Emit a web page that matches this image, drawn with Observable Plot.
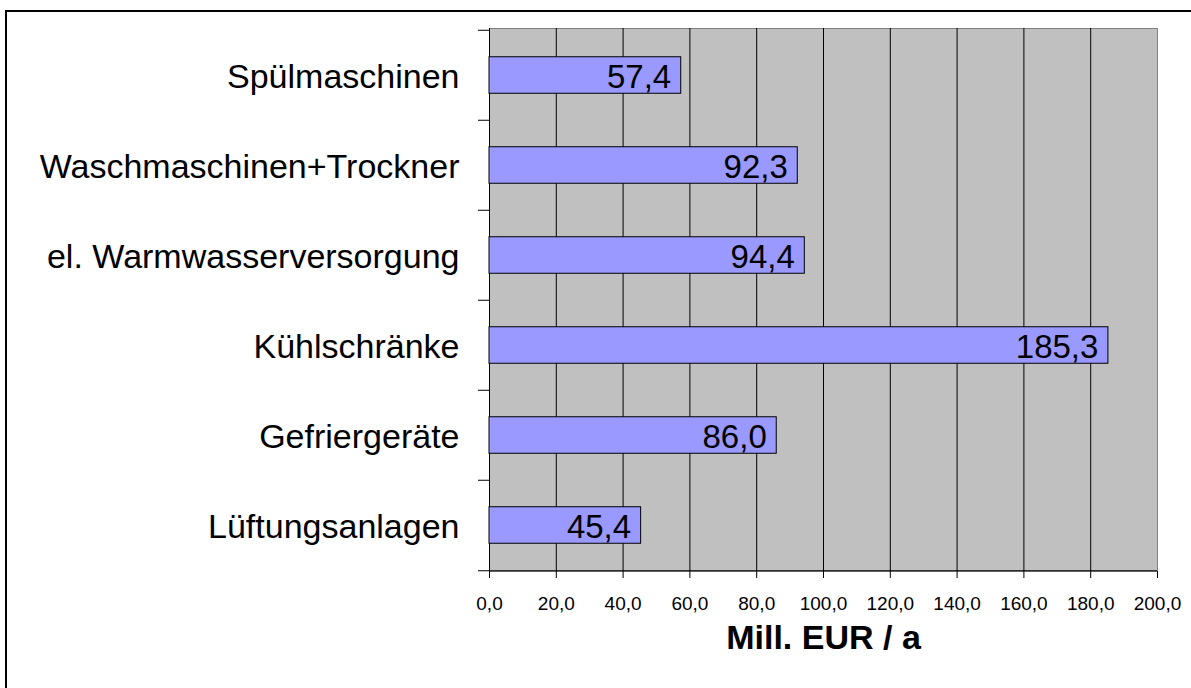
<!DOCTYPE html>
<html>
<head>
<meta charset="utf-8">
<script src="https://cdn.jsdelivr.net/npm/d3@7"></script>
<script src="https://cdn.jsdelivr.net/npm/@observablehq/plot@0.6"></script>
<style>
  html, body { margin: 0; padding: 0; background: #fff; overflow: hidden; }
  #wrap { position: relative; width: 1191px; height: 688px; }
  #border { position: absolute; left: 5px; top: 10px; width: 1300px; height: 800px; border: 2px solid #000; box-sizing: border-box; }
  #chart { position: absolute; left: 0; top: 0; }
</style>
</head>
<body>
<div id="wrap"><div id="border"></div><div id="chart"></div></div>
<script>
const categories = ["Spülmaschinen", "Waschmaschinen+Trockner", "el. Warmwasserversorgung", "Kühlschränke", "Gefriergeräte", "Lüftungsanlagen"];
const values = [57.4, 92.3, 94.4, 185.3, 86.0, 45.4];
const xTicks = [0, 20, 40, 60, 80, 100, 120, 140, 160, 180, 200];
const axisTitle = "Mill. EUR / a";

const data = categories.map((c, i) => ({category: c, value: values[i]}));
const fmt = v => v.toFixed(1).replace(".", ",");

const W = 1191, H = 688, mL = 489, mR = 34, mT = 28, mB = 117;
const bw = (H - mT - mB) / categories.length;
const font = "'Liberation Sans', Arial, Helvetica, sans-serif";

const plot = Plot.plot({
  width: W, height: H,
  marginLeft: mL, marginRight: mR, marginTop: mT, marginBottom: mB,
  style: {fontFamily: font, background: "transparent", overflow: "visible"},
  x: {domain: [0, 200]},
  y: {domain: categories, padding: 0},
  marks: [
    Plot.frame({fill: "#c0c0c0", stroke: "#808080"}),
    Plot.ruleX(xTicks.filter(t => t > 0 && t < 200), {stroke: "#000", strokeWidth: 1}),
    Plot.ruleX([0], {stroke: "#000", strokeWidth: 1}),
    Plot.ruleY([categories[categories.length - 1]], {dy: bw / 2, stroke: "#000", strokeWidth: 1}),
    Plot.ruleY(categories, {x1: 0, x2: 0, dy: -bw / 2, insetLeft: -11, stroke: "#000"}),
    Plot.ruleY([categories[categories.length - 1]], {x1: 0, x2: 0, dy: bw / 2, insetLeft: -11, stroke: "#000"}),
    Plot.barX(data, {x: "value", y: "category", fill: "#9999ff", stroke: "#000", strokeWidth: 1,
      insetTop: 26.75, insetBottom: 26.75}),
    Plot.text(data, {x: "value", y: "category", text: d => fmt(d.value), textAnchor: "end", dx: -10, dy: 2,
      fontSize: 33, fill: "#000"}),
    Plot.axisX({ticks: xTicks, tickFormat: fmt, tickSize: 7, tickPadding: 18, fontSize: 19, label: null, stroke: "#000"}),
    Plot.axisY({tickSize: 0, tickPadding: 30, fontSize: 34, dy: 1.5, label: null}),
    Plot.text([axisTitle], {frameAnchor: "bottom", text: d => d, dy: 77, fontSize: 34, fontWeight: "bold", fill: "#000"})
  ]
});
document.getElementById("chart").appendChild(plot);
</script>
</body>
</html>
